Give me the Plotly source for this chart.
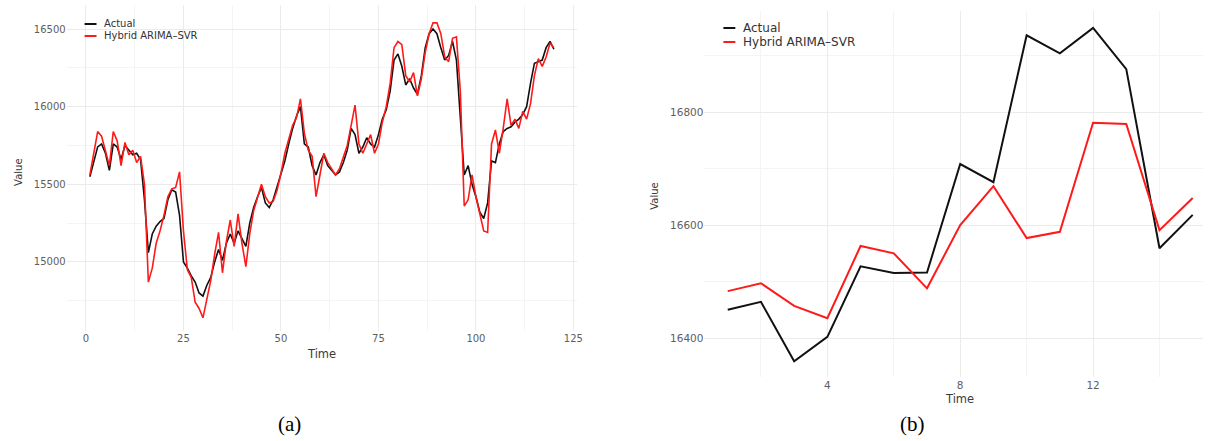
import plotly.graph_objects as go

# ---------------- Panel (a) data ----------------
time_a = list(range(1, 121))
actual_a = [
    15549, 15650, 15741, 15760, 15700, 15590, 15760, 15740, 15660, 15750,
    15720, 15690, 15700, 15660, 15400, 15060, 15180, 15230, 15260, 15280,
    15400, 15464, 15450, 15300, 15000, 14960, 14910, 14870, 14800, 14780,
    14850, 14900, 15000, 15080, 15010, 15120, 15180, 15120, 15200, 15150,
    15100, 15250, 15350, 15420, 15480, 15380, 15350, 15400, 15480, 15560,
    15650, 15760, 15860, 15940, 16000, 15760, 15740, 15620, 15560, 15640,
    15690, 15620, 15590, 15560, 15580, 15640, 15720, 15860, 15820, 15700,
    15740, 15800, 15760, 15740, 15820, 15920, 15980, 16100, 16300, 16340,
    16260, 16140, 16180, 16120, 16080, 16200, 16380, 16470, 16500, 16470,
    16380, 16300, 16330, 16420, 16300, 15900, 15560, 15620, 15500, 15420,
    15320, 15280, 15380, 15650, 15640, 15760, 15840, 15860, 15870, 15900,
    15920, 15950, 16000, 16150, 16280, 16290, 16300, 16380, 16420, 16370,
]
hybrid_a = [
    15560, 15700, 15840, 15810, 15720, 15620, 15840, 15780, 15620, 15770,
    15690, 15720, 15640, 15680, 15500, 14870, 14960, 15120, 15200, 15300,
    15420, 15470, 15480, 15580, 15200, 14950, 14900, 14740, 14700, 14640,
    14760, 14880, 15050, 15190, 14930, 15130, 15270, 15100, 15310, 15120,
    14970, 15180, 15330, 15420, 15500, 15420, 15380, 15390, 15460, 15570,
    15700, 15790, 15880, 15930, 16050, 15830, 15720, 15680, 15420, 15560,
    15700, 15640, 15600, 15560, 15600, 15680, 15750, 15880, 16010, 15760,
    15700, 15760, 15820, 15700, 15760, 15900, 16000, 16150, 16380, 16420,
    16400, 16200, 16160, 16220, 16070, 16180, 16350, 16470, 16540, 16540,
    16470, 16320, 16290, 16440, 16450, 16100, 15360, 15400, 15560, 15420,
    15300, 15200, 15190, 15760, 15850, 15700, 15860, 16050, 15880, 15920,
    15860, 15970, 15920, 16020, 16200, 16310, 16260, 16320, 16410, 16380,
]

# ---------------- Panel (b) data ----------------
time_b = list(range(1, 16))
actual_b = [16450, 16464, 16359, 16402, 16527, 16515, 16516, 16708,
            16676, 16936, 16904, 16949, 16876, 16559, 16618]
hybrid_b = [16483, 16497, 16457, 16435, 16563, 16550, 16488, 16600,
            16669, 16577, 16588, 16781, 16779, 16591, 16648]

series_names = ["Actual", "Hybrid ARIMA\u2013SVR"]
series_colors = ["#111111", "#ff1a1a"]
captions = ["(a)", "(b)"]

W, H = 1209, 441
FONT = "DejaVu Sans, Liberation Sans, sans-serif"
TICK_COLOR = "#5e5e5e"
GRID_MAJOR = "#ebebeb"
GRID_MINOR = "#f4f4f4"

fig = go.Figure()

for name, col, ys in zip(series_names, series_colors, [actual_a, hybrid_a]):
    fig.add_trace(go.Scatter(x=time_a, y=ys, mode="lines", name=name,
                             line=dict(color=col, width=1.6),
                             xaxis="x", yaxis="y", showlegend=False))
for name, col, ys in zip(series_names, series_colors, [actual_b, hybrid_b]):
    fig.add_trace(go.Scatter(x=time_b, y=ys, mode="lines", name=name,
                             line=dict(color=col, width=2),
                             xaxis="x2", yaxis="y2", showlegend=False))


def px_x(p):
    return p / W


def px_y(p):
    return 1 - p / H


axis_common = dict(showline=False, zeroline=False, ticks="",
                   gridcolor=GRID_MAJOR, gridwidth=1, showgrid=True,
                   tickformat="d")

fig.update_layout(
    width=W, height=H,
    margin=dict(l=0, r=0, t=0, b=0),
    paper_bgcolor="white", plot_bgcolor="white",
    font=dict(family=FONT, color="#333333"),
    showlegend=False,
    xaxis=dict(domain=[px_x(67), px_x(580)], range=[-4.95, 125.95],
               tickmode="linear", tick0=0, dtick=25,
               minor=dict(dtick=12.5, tick0=0, showgrid=True, gridcolor=GRID_MINOR, gridwidth=1),
               tickfont=dict(size=10, color=TICK_COLOR), anchor="y", **axis_common),
    yaxis=dict(domain=[px_y(331), px_y(5)], range=[14555, 16655],
               tickmode="linear", tick0=15000, dtick=500,
               minor=dict(dtick=250, tick0=15000, showgrid=True, gridcolor=GRID_MINOR, gridwidth=1),
               tickfont=dict(size=10, color=TICK_COLOR), anchor="x", **axis_common),
    xaxis2=dict(domain=[px_x(708), 1.0], range=[0.3, 15.31],
                tickmode="linear", tick0=0, dtick=4,
                minor=dict(dtick=2, tick0=0, showgrid=True, gridcolor=GRID_MINOR, gridwidth=1),
                tickfont=dict(size=10.5, color=TICK_COLOR), anchor="y2", **axis_common),
    yaxis2=dict(domain=[px_y(377), px_y(11)], range=[16331, 16979],
                tickmode="linear", tick0=16400, dtick=200,
                minor=dict(dtick=100, tick0=16400, showgrid=True, gridcolor=GRID_MINOR, gridwidth=1),
                tickfont=dict(size=10.5, color=TICK_COLOR), anchor="x2", **axis_common),
)

annotations = [
    dict(text="Time", x=px_x(323), y=px_y(354), xref="paper", yref="paper",
         showarrow=False, font=dict(size=11.5, color="#3a3a3a"), xanchor="center", yanchor="middle"),
    dict(text="Value", x=px_x(18), y=px_y(172), xref="paper", yref="paper", textangle=-90,
         showarrow=False, font=dict(size=10, color="#3a3a3a"), xanchor="center", yanchor="middle"),
    dict(text="Time", x=px_x(964), y=px_y(399), xref="paper", yref="paper",
         showarrow=False, font=dict(size=11.5, color="#3a3a3a"), xanchor="center", yanchor="middle"),
    dict(text="Value", x=px_x(657), y=px_y(196), xref="paper", yref="paper", textangle=-90,
         showarrow=False, font=dict(size=10, color="#3a3a3a"), xanchor="center", yanchor="middle"),
    dict(text=captions[0], x=px_x(291), y=px_y(424), xref="paper", yref="paper",
         showarrow=False, font=dict(size=21, color="#000000", family="Liberation Serif, serif"),
         xanchor="center", yanchor="middle"),
    dict(text=captions[1], x=px_x(917), y=px_y(424), xref="paper", yref="paper",
         showarrow=False, font=dict(size=21, color="#000000", family="Liberation Serif, serif"),
         xanchor="center", yanchor="middle"),
]

# Manual legends (key line + label), one per panel
shapes = []
legend_specs = [
    # key x-start, key x-end, text x, row y positions, font size
    (85, 97, 103, [24, 36], 10),
    (727, 739, 745, [28, 42], 12),
]
for kx0, kx1, tx, rows, fs in legend_specs:
    for name, col, ry in zip(series_names, series_colors, rows):
        shapes.append(dict(type="line", xref="paper", yref="paper",
                           x0=px_x(kx0), x1=px_x(kx1), y0=px_y(ry), y1=px_y(ry),
                           line=dict(color=col, width=2)))
        annotations.append(dict(text=name, x=px_x(tx), y=px_y(ry), xref="paper", yref="paper",
                                showarrow=False, xanchor="left", yanchor="middle",
                                font=dict(size=fs, color="#333333")))

fig.update_layout(annotations=annotations, shapes=shapes)

fig.write_html("out.html")
